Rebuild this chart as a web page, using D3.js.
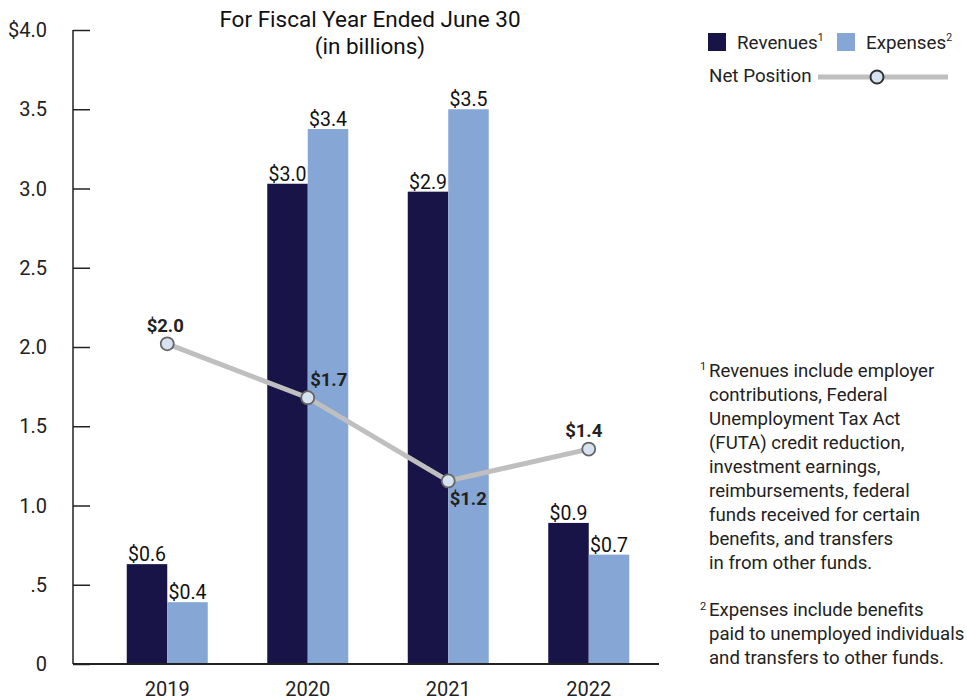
<!DOCTYPE html>
<html>
<head>
<meta charset="utf-8">
<script src="https://cdn.jsdelivr.net/npm/d3@7"></script>
<style>
  body { margin: 0; background: #fff; }
  svg { font-family: Roboto, "Noto Sans", sans-serif; }
</style>
</head>
<body>
<svg id="chart" width="967" height="700"></svg>
<script>
// Données
const years = ['2019', '2020', '2021', '2022'];
const revenues = [0.63, 3.03, 2.98, 0.89];
const expenses = [0.39, 3.375, 3.5, 0.69];
const netPosition = [2.02, 1.68, 1.155, 1.356];
const revenueLabels = ['$0.6', '$3.0', '$2.9', '$0.9'];
const expenseLabels = ['$0.4', '$3.4', '$3.5', '$0.7'];
const netLabels = ['$2.0', '$1.7', '$1.2', '$1.4'];
const yTicks = [0, 0.5, 1, 1.5, 2, 2.5, 3, 3.5, 4];
const yTickLabels = ['0', '.5', '1.0', '1.5', '2.0', '2.5', '3.0', '3.5', '$4.0'];
const footnote1 = ['Revenues include employer', 'contributions, Federal', 'Unemployment Tax Act',
  '(FUTA) credit reduction,', 'investment earnings,', 'reimbursements, federal',
  'funds received for certain', 'benefits, and transfers', 'in from other funds.'];
const footnote2 = ['Expenses include benefits', 'paid to unemployed individuals', 'and transfers to other funds.'];

const colRev = '#181447';
const colExp = '#86a6d5';
const colNet = '#bfbfbf';
const textCol = '#222';

const svg = d3.select('#chart');

const axeLeft = 73;
const axeTop = 30;
const axeBottom = 664;

// Échelles
const xScale = d3.scaleBand().domain(years).range([97, 659]).padding(0);
const half = 40.5;
const xSub = d3.scaleBand().domain(['rev', 'exp'])
  .range([xScale.bandwidth() / 2 - half, xScale.bandwidth() / 2 + half]);
const yScale = d3.scaleLinear().domain([0, 4]).range([axeBottom, axeTop]);

// Barres
const series = [
  { key: 'rev', values: revenues, labels: revenueLabels, color: colRev },
  { key: 'exp', values: expenses, labels: expenseLabels, color: colExp }
];

series.forEach((s) => {
  svg.append('g').selectAll('rect')
    .data(years)
    .enter()
    .append('rect')
    .attr('x', (d) => xScale(d) + xSub(s.key))
    .attr('y', (d, i) => yScale(s.values[i]))
    .attr('width', xSub.bandwidth())
    .attr('height', (d, i) => yScale(0) - yScale(s.values[i]))
    .attr('fill', s.color);

  svg.append('g').selectAll('text')
    .data(years)
    .enter()
    .append('text')
    .attr('x', (d) => xScale(d) + xSub(s.key) + xSub.bandwidth() / 2)
    .attr('y', (d, i) => yScale(s.values[i]) - 3)
    .attr('text-anchor', 'middle')
    .attr('font-size', '19.5px')
    .attr('fill', '#111')
    .text((d, i) => s.labels[i]);
});

// Axe Y
const yAxis = svg.append('g')
  .attr('transform', `translate(${axeLeft},0)`)
  .call(d3.axisRight(yScale).tickValues(yTicks).tickSize(17).tickFormat(''));
yAxis.select('.domain').remove();
yAxis.selectAll('line').attr('stroke', textCol).attr('stroke-width', 1.5);
svg.append('line')
  .attr('x1', axeLeft).attr('x2', axeLeft)
  .attr('y1', yScale(4)).attr('y2', yScale(0))
  .attr('stroke', textCol).attr('stroke-width', 1.5);

svg.append('g').selectAll('text')
  .data(yTicks)
  .enter()
  .append('text')
  .attr('x', 47)
  .attr('y', (d) => yScale(d) + 7)
  .attr('text-anchor', 'end')
  .attr('font-size', '20px')
  .attr('fill', textCol)
  .text((d, i) => yTickLabels[i]);

// Axe X
svg.append('line')
  .attr('x1', axeLeft).attr('x2', 659)
  .attr('y1', axeBottom).attr('y2', axeBottom)
  .attr('stroke', textCol).attr('stroke-width', 2);

svg.append('g').selectAll('text')
  .data(years)
  .enter()
  .append('text')
  .attr('x', (d) => xScale(d) + xScale.bandwidth() / 2)
  .attr('y', 696)
  .attr('text-anchor', 'middle')
  .attr('font-size', '20px')
  .attr('fill', textCol)
  .text((d) => d);

// Ligne de la position nette
const cx = (d) => xScale(d) + xScale.bandwidth() / 2;
const line = d3.line()
  .x((d) => cx(d))
  .y((d, i) => yScale(netPosition[i]));

svg.append('path')
  .datum(years)
  .attr('d', line)
  .attr('fill', 'none')
  .attr('stroke', colNet)
  .attr('stroke-width', 5);

svg.append('g').selectAll('circle')
  .data(years)
  .enter()
  .append('circle')
  .attr('cx', (d) => cx(d))
  .attr('cy', (d, i) => yScale(netPosition[i]))
  .attr('r', 6.5)
  .attr('fill', '#d6e2ef')
  .attr('stroke', '#666')
  .attr('stroke-width', 1.8);

const netOffsets = [[-2, -12], [21, -12], [20, 24], [-5, -12]];
svg.append('g').selectAll('text')
  .data(years)
  .enter()
  .append('text')
  .attr('x', (d, i) => cx(d) + netOffsets[i][0])
  .attr('y', (d, i) => yScale(netPosition[i]) + netOffsets[i][1])
  .attr('text-anchor', 'middle')
  .attr('font-size', '18.5px')
  .attr('font-weight', 'bold')
  .attr('fill', textCol)
  .text((d, i) => netLabels[i]);

// Titre
svg.append('text')
  .attr('x', 370).attr('y', 27)
  .attr('text-anchor', 'middle')
  .attr('font-size', '22.5px')
  .attr('fill', '#111')
  .text('For Fiscal Year Ended June 30');
svg.append('text')
  .attr('x', 370).attr('y', 54)
  .attr('text-anchor', 'middle')
  .attr('font-size', '22.5px')
  .attr('fill', '#111')
  .text('(in billions)');

// Légende
const legend = svg.append('g').attr('font-size', '18.8px').attr('fill', textCol);
legend.append('rect').attr('x', 708).attr('y', 33).attr('width', 18).attr('height', 18).attr('fill', colRev);
const lr = legend.append('text').attr('x', 737).attr('y', 49);
lr.append('tspan').text('Revenues');
lr.append('tspan').attr('font-size', '10.5px').attr('dy', -8).text('1');
legend.append('rect').attr('x', 837).attr('y', 33).attr('width', 18).attr('height', 18).attr('fill', colExp);
const le = legend.append('text').attr('x', 866).attr('y', 49);
le.append('tspan').text('Expenses');
le.append('tspan').attr('font-size', '10.5px').attr('dy', -8).text('2');
legend.append('text').attr('x', 709).attr('y', 82).text('Net Position');
legend.append('line').attr('x1', 818).attr('x2', 948).attr('y1', 77).attr('y2', 77)
  .attr('stroke', colNet).attr('stroke-width', 5);
legend.append('circle').attr('cx', 877).attr('cy', 77).attr('r', 6.5)
  .attr('fill', '#d6e2ef').attr('stroke', '#333').attr('stroke-width', 2);

// Notes de bas de page
const notes = svg.append('g').attr('font-size', '18.6px').attr('fill', textCol);
notes.append('text').attr('x', 700).attr('y', 370).attr('font-size', '11px').text('1');
notes.selectAll('.n1')
  .data(footnote1)
  .enter()
  .append('text')
  .attr('x', 709)
  .attr('y', (d, i) => 377 + i * 24)
  .text((d) => d);
notes.append('text').attr('x', 700).attr('y', 610).attr('font-size', '11px').text('2');
notes.selectAll('.n2')
  .data(footnote2)
  .enter()
  .append('text')
  .attr('x', 709)
  .attr('y', (d, i) => 616 + i * 24)
  .text((d) => d);
</script>
</body>
</html>
